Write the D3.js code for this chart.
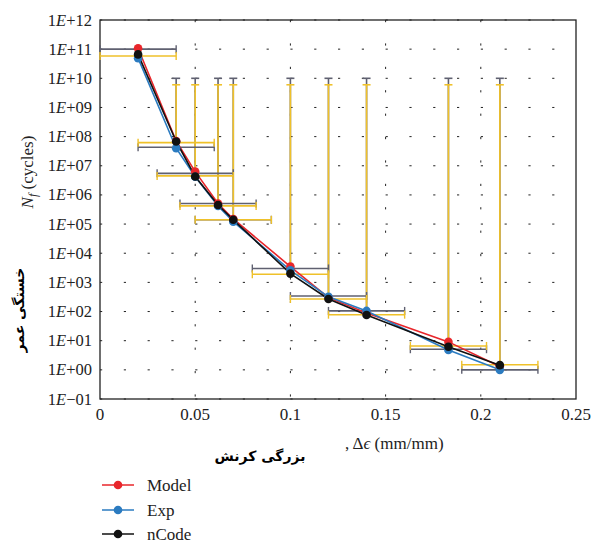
<!DOCTYPE html>
<html>
<head>
<meta charset="utf-8">
<script src="https://cdn.jsdelivr.net/npm/d3@7"></script>
<style>
  body { margin: 0; background: #fff; }
  text { font-family: "Liberation Serif", "DejaVu Serif", serif; }
</style>
</head>
<body>
<div id="chart"></div>
<script>
const svgWidth = 593;
const svgHeight = 542;
const plotLeft = 100, plotRight = 576, plotTop = 20, plotBottom = 399;

// strain amplitude (mm/mm)
const strain = [0.02, 0.04, 0.05, 0.062, 0.07, 0.1, 0.12, 0.14, 0.183, 0.21];
const strainErr = [0.02, 0.02, 0.02, 0.02, 0.02, 0.02, 0.02, 0.02, 0.02, 0.02];
// cycles to failure
const modelN = [1.07e11, 7.1e7, 6.3e6, 5.1e5, 1.5e5, 3.5e3, 300, 89, 9.1, 1.3];
const expN = [4.9e10, 4.0e7, 4.2e6, 4.2e5, 1.2e5, 2.6e3, 320, 105, 4.8, 1.0];
const ncodeN = [6.6e10, 6.8e7, 4.3e6, 4.5e5, 1.4e5, 2.0e3, 270, 76, 6.2, 1.45];
// error bar centres
const grayBarN = [1.0e11, 4.3e7, 5.5e6, 5.1e5, 1.4e5, 3.0e3, 340, 105, 5.1, 1.0];
const yellowBarN = [5.8e10, 6.2e7, 4.5e6, 4.2e5, 1.4e5, 1.9e3, 270, 78, 6.6, 1.5];
const grayUpper = 1e10;
const yellowUpper = 6e9;

const yTicks = [1e-1, 1e0, 1e1, 1e2, 1e3, 1e4, 1e5, 1e6, 1e7, 1e8, 1e9, 1e10, 1e11, 1e12];
const xTicks = [0, 0.05, 0.1, 0.15, 0.2, 0.25];

const seriesNames = ["Model", "Exp", "nCode"];
const seriesColors = ["#e8262b", "#2b7bc0", "#111111"];
const grayColor = "#5f6070";
const yellowColor = "#efc12a";

let svg = d3.select("#chart").append("svg")
  .attr("width", svgWidth)
  .attr("height", svgHeight);

let x = d3.scaleLinear().domain([0, 0.25]).range([plotLeft, plotRight]);
let y = d3.scaleLog().domain([1e-1, 1e12]).range([plotBottom, plotTop]);

// dotted grid
yTicks.forEach(t => {
  svg.append("line")
    .attr("x1", x(0)).attr("x2", x(0.25))
    .attr("y1", y(t)).attr("y2", y(t))
    .attr("stroke", "#222").attr("stroke-width", 1)
    .attr("stroke-dasharray", "2.2,21.6");
});
xTicks.slice(1, -1).forEach(t => {
  svg.append("line")
    .attr("x1", x(t)).attr("x2", x(t))
    .attr("y1", plotTop).attr("y2", plotBottom)
    .attr("stroke", "#222").attr("stroke-width", 1)
    .attr("stroke-dasharray", "2.2,21.2");
});

// frame
svg.append("rect")
  .attr("x", plotLeft).attr("y", plotTop)
  .attr("width", plotRight - plotLeft).attr("height", plotBottom - plotTop)
  .attr("fill", "none").attr("stroke", "#222").attr("stroke-width", 1.3);

// y tick labels
yTicks.forEach(t => {
  let e = Math.round(Math.log10(t));
  let sign = e < 0 ? "\u2212" : "+";
  let digits = String(Math.abs(e)).padStart(2, "0");
  let lbl = svg.append("text")
    .attr("x", 92).attr("y", y(t) + 5.5)
    .attr("text-anchor", "end")
    .style("font-size", "16.5px")
    .attr("fill", "#222");
  lbl.append("tspan").text("1");
  lbl.append("tspan").style("font-style", "italic").text("E");
  lbl.append("tspan").text(sign + digits);
});

// x tick labels
xTicks.forEach(t => {
  svg.append("text")
    .attr("x", x(t)).attr("y", 420)
    .attr("text-anchor", "middle")
    .style("font-size", "17px")
    .attr("fill", "#222")
    .text(t === 0 ? "0" : String(t));
});

// error bars
function hBar(i, val, color) {
  let yy = y(val);
  let x1 = Math.max(x(strain[i] - strainErr[i]), plotLeft);
  let x2 = x(strain[i] + strainErr[i]);
  svg.append("line").attr("x1", x1).attr("x2", x2).attr("y1", yy).attr("y2", yy)
    .attr("stroke", color).attr("stroke-width", 1.6);
  [x1, x2].forEach(xx => {
    svg.append("line").attr("x1", xx).attr("x2", xx).attr("y1", yy - 4).attr("y2", yy + 4)
      .attr("stroke", color).attr("stroke-width", 1.4);
  });
}
function vBar(i, val, upper, color) {
  if (upper <= val) return;
  let xx = x(strain[i]);
  svg.append("line").attr("x1", xx).attr("x2", xx).attr("y1", y(val)).attr("y2", y(upper))
    .attr("stroke", color).attr("stroke-width", 1.6);
  svg.append("line").attr("x1", xx - 4).attr("x2", xx + 4).attr("y1", y(upper)).attr("y2", y(upper))
    .attr("stroke", color).attr("stroke-width", 1.6);
}
strain.forEach((s, i) => {
  vBar(i, grayBarN[i], grayUpper, grayColor);
  vBar(i, yellowBarN[i], yellowUpper, yellowColor);
});
strain.forEach((s, i) => {
  hBar(i, grayBarN[i], grayColor);
  hBar(i, yellowBarN[i], yellowColor);
});

// series
let allSeries = [modelN, expN, ncodeN];
let line = d3.line().x((d, i) => x(strain[i])).y(d => y(d));
allSeries.forEach((vals, k) => {
  svg.append("path")
    .datum(vals)
    .attr("d", line)
    .attr("fill", "none")
    .attr("stroke", seriesColors[k])
    .attr("stroke-width", 1.6);
});
allSeries.forEach((vals, k) => {
  svg.selectAll(null)
    .data(vals)
    .enter()
    .append("circle")
    .attr("cx", (d, i) => x(strain[i]))
    .attr("cy", d => y(d))
    .attr("r", 4.3)
    .attr("fill", seriesColors[k]);
});

// axis titles
let yTitle = svg.append("text")
  .attr("transform", "translate(33,172) rotate(-90)")
  .attr("text-anchor", "middle")
  .style("font-size", "17px")
  .attr("fill", "#222");
yTitle.append("tspan").style("font-style", "italic").text("N");
yTitle.append("tspan").style("font-style", "italic").style("font-size", "12px").attr("dy", 4).text("f");
yTitle.append("tspan").attr("dy", -4).text(" (cycles)");

svg.append("text")
  .attr("transform", "translate(24,310) rotate(-90)")
  .attr("text-anchor", "middle")
  .style("font-family", "DejaVu Sans")
  .style("font-weight", "bold")
  .style("font-size", "14px")
  .attr("fill", "#000")
  .text("خستگی عمر");

svg.append("text")
  .attr("x", 260).attr("y", 461)
  .attr("text-anchor", "middle")
  .style("font-family", "DejaVu Sans")
  .style("font-weight", "bold")
  .style("font-size", "14px")
  .attr("fill", "#000")
  .text("بزرگی کرنش");

let xTitle = svg.append("text")
  .attr("x", 345).attr("y", 449)
  .style("font-size", "17px")
  .attr("fill", "#222");
xTitle.append("tspan").text(", \u0394");
xTitle.append("tspan").style("font-style", "italic").text("\u03f5");
xTitle.append("tspan").text(" (mm/mm)");

// legend
let legendY = [485, 510, 534];
seriesNames.forEach((name, k) => {
  svg.append("line")
    .attr("x1", 102).attr("x2", 134)
    .attr("y1", legendY[k]).attr("y2", legendY[k])
    .attr("stroke", seriesColors[k]).attr("stroke-width", 1.5);
  svg.append("circle")
    .attr("cx", 118).attr("cy", legendY[k]).attr("r", 4.3)
    .attr("fill", seriesColors[k]);
  svg.append("text")
    .attr("x", 147).attr("y", legendY[k] + 5.5)
    .style("font-size", "17px")
    .attr("fill", "#222")
    .text(name);
});
</script>
</body>
</html>
